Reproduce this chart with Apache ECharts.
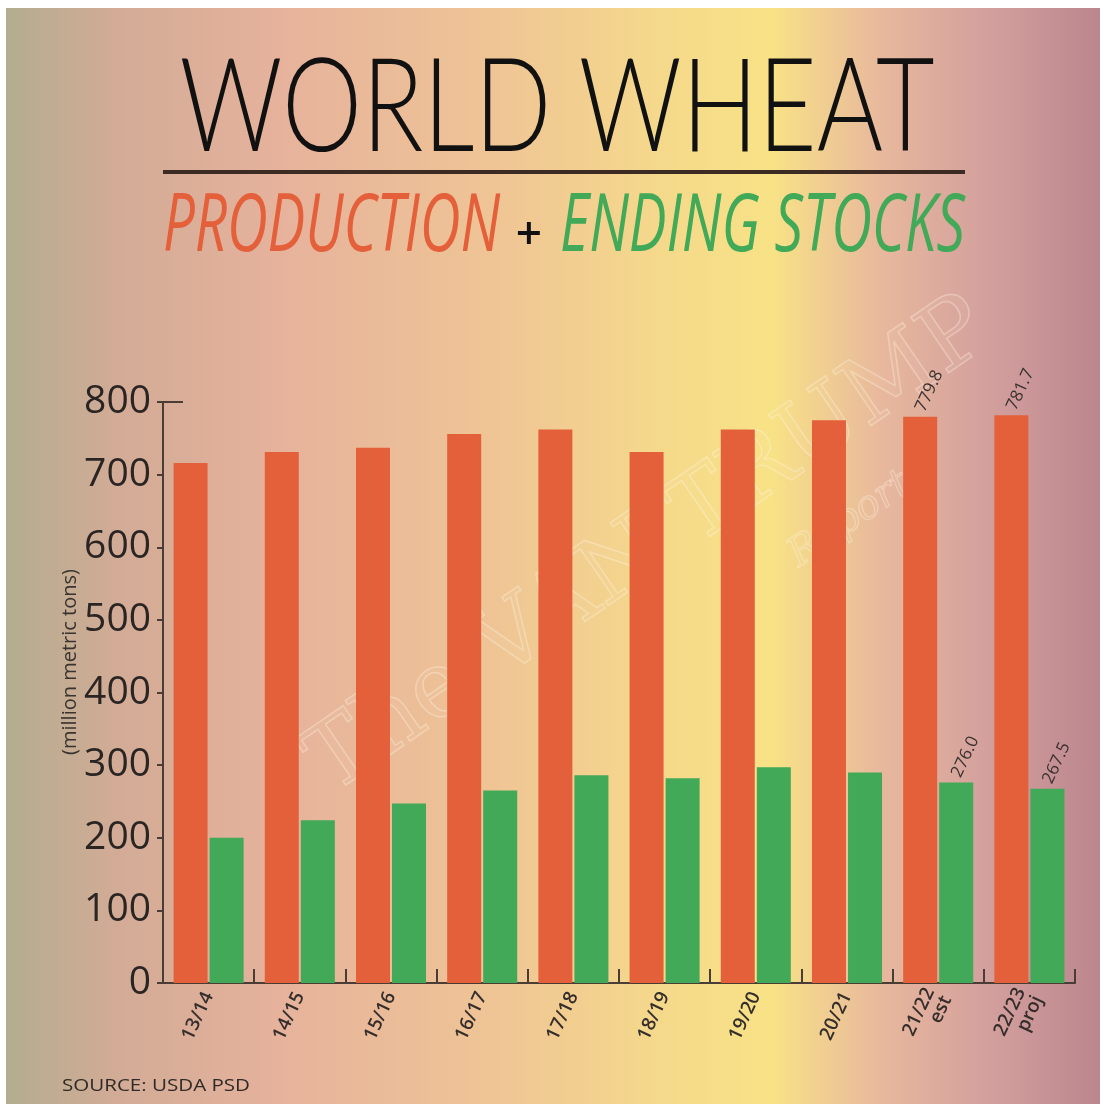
<!DOCTYPE html>
<html>
<head>
<meta charset="utf-8">
<style>
  html, body { margin: 0; padding: 0; background: #fff; }
  #chart { width: 1105px; height: 1107px; }
</style>
<script src="https://cdn.jsdelivr.net/npm/echarts@6/dist/echarts.min.js"></script>
</head>
<body>
<div id="chart"></div>
<script>
// marketing years
const years = ['13/14', '14/15', '15/16', '16/17', '17/18', '18/19', '19/20', '20/21', '21/22\nest', '22/23\nproj'];
// million metric tons
const production = [716, 731, 737, 756, 762, 731, 762, 775, 779.8, 781.7];
const endingStocks = [200, 224, 247, 265, 286, 282, 297, 290, 276.0, 267.5];
// only the last two years get a value label
const labelled = [8, 9];
const yTicks = [0, 100, 200, 300, 400, 500, 600, 700, 800];

const orange = '#e4603b';
const green = '#41a957';
const ink = '#2a2523';

// width helper so the display text can be squeezed to the picture's width
const ctx = document.createElement('canvas').getContext('2d');
function fit(text, font, w) {
    ctx.font = font;
    return w / ctx.measureText(text).width;
}

function withLabels(arr) {
    return arr.map(function (v, i) {
        return {
            value: v,
            label: { show: labelled.indexOf(i) >= 0 }
        };
    });
}

const titleFont = '300 130px Lato';
const subFont = 'italic 400 80px "Open Sans"';
const srcFont = '400 17px "Open Sans"';
const markFont = '400 92px "DejaVu Serif"';

const chart = echarts.init(document.getElementById('chart'));
const option = {
    backgroundColor: '#ffffff',
    animation: false,
    graphic: [
        {
            type: 'rect', z: -10, silent: true,
            shape: { x: 6, y: 8, width: 1094, height: 1096 },
            style: {
                fill: new echarts.graphic.LinearGradient(0, 0, 1, 0, [
                    { offset: 0, color: '#b3ad8f' },
                    { offset: 0.1, color: '#d2ab96' },
                    { offset: 0.25, color: '#e6b29c' },
                    { offset: 0.45, color: '#efc595' },
                    { offset: 0.6, color: '#f5d98b' },
                    { offset: 0.7, color: '#f8e286' },
                    { offset: 0.8, color: '#e8b89d' },
                    { offset: 0.9, color: '#d39f9d' },
                    { offset: 1, color: '#bb868e' }
                ])
            }
        },
        // faint outlined watermark behind the bars
        {
            type: 'text', z: -5, silent: true,
            x: 650, y: 548, rotation: 0.6,
            style: {
                text: 'The VAN TRUMP', font: markFont,
                fill: 'rgba(255,245,225,0.06)', stroke: 'rgba(255,245,225,0.35)', lineWidth: 1.5,
                textAlign: 'center', textVerticalAlign: 'middle'
            }
        },
        {
            type: 'text', z: -5, silent: true,
            x: 850, y: 520, rotation: 0.6,
            style: {
                text: 'Report', font: 'italic 400 40px "DejaVu Serif"',
                fill: 'rgba(255,245,225,0.06)', stroke: 'rgba(255,245,225,0.35)', lineWidth: 1.2,
                textAlign: 'center', textVerticalAlign: 'middle'
            }
        },
        {
            type: 'text', x: 557, y: 44,
            scaleX: fit('WORLD WHEAT', titleFont, 755),
            style: {
                text: 'WORLD WHEAT', font: titleFont, fill: '#111',
                textAlign: 'center', textVerticalAlign: 'top'
            }
        },
        {
            type: 'line',
            shape: { x1: 163, y1: 172, x2: 965, y2: 172 },
            style: { stroke: '#3b2b22', lineWidth: 4 }
        },
        {
            type: 'text', x: 163, y: 228,
            scaleX: fit('PRODUCTION', subFont, 337),
            style: {
                text: 'PRODUCTION', font: subFont, fill: orange,
                textAlign: 'left', textVerticalAlign: 'middle'
            }
        },
        {
            type: 'text', x: 529, y: 236,
            style: {
                text: '+', font: '600 46px "Open Sans"', fill: '#111',
                textAlign: 'center', textVerticalAlign: 'middle'
            }
        },
        {
            type: 'text', x: 560, y: 228,
            scaleX: fit('ENDING STOCKS', subFont, 405),
            style: {
                text: 'ENDING STOCKS', font: subFont, fill: green,
                textAlign: 'left', textVerticalAlign: 'middle'
            }
        },
        {
            type: 'text', x: 70, y: 662, rotation: Math.PI / 2,
            style: {
                text: '(million metric tons)', font: '400 20px "Open Sans"', fill: '#3a3330',
                textAlign: 'center', textVerticalAlign: 'middle'
            }
        },
        {
            type: 'text', x: 62, y: 1086,
            scaleX: fit('SOURCE: USDA PSD', srcFont, 188),
            style: {
                text: 'SOURCE: USDA PSD', font: srcFont, fill: '#2f2a28',
                textAlign: 'left', textVerticalAlign: 'middle'
            }
        },
        // short cap at the top of the value axis
        {
            type: 'line',
            shape: { x1: 163, y1: 402, x2: 183, y2: 402 },
            style: { stroke: '#4a3d36', lineWidth: 2 }
        }
    ],
    grid: { left: 163, right: 30, top: 402, bottom: 124, containLabel: false },
    xAxis: {
        type: 'category',
        data: years,
        axisLine: { lineStyle: { color: '#4a3d36', width: 2 } },
        axisTick: { show: true, inside: true, length: 14, lineStyle: { color: '#4a3d36', width: 2 } },
        axisLabel: {
            rotate: 65, margin: 10, interval: 0,
            fontFamily: 'Open Sans', fontWeight: 600, fontSize: 19, color: '#362e2b',
            lineHeight: 19
        }
    },
    yAxis: {
        type: 'value',
        min: 0, max: 800, interval: 100,
        splitLine: { show: false },
        axisLine: { show: true, lineStyle: { color: '#4a3d36', width: 2 } },
        axisTick: { show: true, length: 6, lineStyle: { color: '#4a3d36', width: 2 } },
        axisLabel: {
            fontFamily: 'Open Sans', fontSize: 39, color: ink, margin: 12,
            formatter: function (v) { return yTicks.indexOf(v) >= 0 ? String(v) : ''; }
        }
    },
    series: [
        {
            name: 'Production', type: 'bar',
            barWidth: 34, barGap: '6%',
            itemStyle: { color: orange },
            label: {
                position: 'top', rotate: 65, distance: 6,
                align: 'left', verticalAlign: 'middle',
                fontFamily: 'Open Sans', fontSize: 17, color: '#3a3230',
                formatter: function (p) { return p.value.toFixed(1); }
            },
            data: withLabels(production)
        },
        {
            name: 'Ending stocks', type: 'bar',
            barWidth: 34,
            itemStyle: { color: green },
            label: {
                position: 'top', rotate: 65, distance: 6,
                align: 'left', verticalAlign: 'middle',
                fontFamily: 'Open Sans', fontSize: 17, color: '#3a3230',
                formatter: function (p) { return p.value.toFixed(1); }
            },
            data: withLabels(endingStocks)
        }
    ]
};
chart.setOption(option);
</script>
</body>
</html>
